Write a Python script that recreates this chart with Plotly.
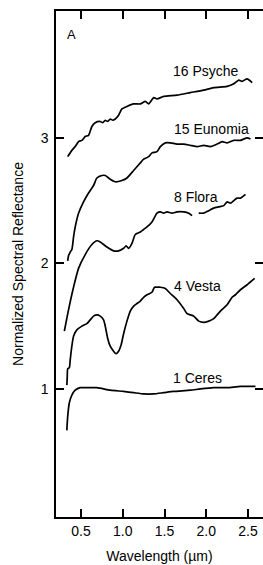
import plotly.graph_objects as go

# ---- data ----
psyche_x = [0.34, 0.39, 0.43, 0.47, 0.51, 0.55, 0.59, 0.63, 0.67, 0.73, 0.76, 0.79, 0.82, 0.85, 0.88, 0.91,
            0.95, 0.99, 1.05, 1.13, 1.21, 1.27, 1.31, 1.37, 1.41, 1.49, 1.65, 1.81, 1.97, 2.09, 2.25,
            2.33, 2.39, 2.43, 2.49, 2.55]
psyche_y = [2.85, 2.90, 2.93, 2.97, 2.98, 3.01, 3.02, 3.09, 3.12, 3.13, 3.12, 3.14, 3.13, 3.15, 3.14, 3.15,
            3.18, 3.23, 3.25, 3.27, 3.27, 3.29, 3.27, 3.32, 3.31, 3.33, 3.34, 3.36, 3.38, 3.40, 3.41,
            3.43, 3.46, 3.45, 3.47, 3.44]

eunomia_x = [0.34, 0.35, 0.37, 0.39, 0.40, 0.41, 0.43, 0.47, 0.53, 0.59, 0.65, 0.69, 0.75, 0.79, 0.85,
             0.91, 0.99, 1.05, 1.13, 1.21, 1.25, 1.31, 1.35, 1.41, 1.45, 1.51, 1.57, 1.65, 1.73, 1.81,
             1.89, 1.97, 2.05, 2.13, 2.19, 2.25, 2.33, 2.41, 2.49, 2.53]
eunomia_y = [2.02, 2.06, 2.09, 2.11, 2.15, 2.21, 2.29, 2.40, 2.49, 2.56, 2.62, 2.68, 2.70, 2.70, 2.67,
             2.65, 2.66, 2.68, 2.74, 2.80, 2.83, 2.85, 2.88, 2.89, 2.93, 2.96, 2.96, 2.95, 2.95, 2.94,
             2.93, 2.94, 2.93, 2.95, 2.97, 2.96, 2.98, 2.98, 3.00, 2.99]

flora_x = [0.30, 0.35, 0.41, 0.47, 0.55, 0.63, 0.69, 0.73, 0.81, 0.89, 0.95, 1.01, 1.04, 1.07, 1.11,
           1.15, 1.21, 1.25, 1.29, 1.35, 1.41, 1.45, 1.49, 1.53, 1.59, 1.65, 1.73, 1.79, 1.83, None,
           1.91, 1.97, 2.03, 2.09, 2.15, 2.21, 2.25, 2.29, 2.33, 2.37, 2.41, 2.47]
flora_y = [1.46, 1.63, 1.81, 1.96, 2.07, 2.15, 2.18, 2.17, 2.13, 2.10, 2.10, 2.12, 2.14, 2.12, 2.16,
           2.23, 2.25, 2.27, 2.29, 2.33, 2.40, 2.41, 2.40, 2.41, 2.40, 2.41, 2.41, 2.40, 2.38, None,
           2.40, 2.40, 2.42, 2.44, 2.45, 2.46, 2.49, 2.48, 2.50, 2.52, 2.52, 2.55]

vesta_x = [0.33, 0.335, 0.34, 0.36, 0.37, 0.39, 0.41, 0.45, 0.51, 0.57, 0.61, 0.65, 0.69, 0.73, 0.77,
           0.79, 0.82, 0.85, 0.89, 0.92, 0.95, 0.98, 1.01, 1.05, 1.09, 1.13, 1.17, 1.21, 1.25, 1.29,
           1.35, 1.38, 1.41, 1.45, 1.51, 1.57, 1.65, 1.73, 1.77, 1.81, 1.85, 1.91, 1.97, 2.03, 2.09,
           2.17, 2.25, 2.31, 2.35, 2.41, 2.49, 2.58]
vesta_y = [1.03, 1.10, 1.16, 1.17, 1.23, 1.34, 1.42, 1.47, 1.50, 1.52, 1.55, 1.58, 1.59, 1.58, 1.55,
           1.50, 1.40, 1.34, 1.30, 1.28, 1.30, 1.35, 1.44, 1.54, 1.62, 1.66, 1.68, 1.70, 1.73, 1.75,
           1.77, 1.81, 1.81, 1.81, 1.80, 1.76, 1.71, 1.64, 1.60, 1.59, 1.58, 1.54, 1.53, 1.54, 1.56,
           1.62, 1.67, 1.73, 1.75, 1.79, 1.83, 1.88]

ceres_x = [0.33, 0.34, 0.36, 0.39, 0.43, 0.49, 0.57, 0.69, 0.85, 1.01, 1.13, 1.25, 1.37, 1.49, 1.61,
           1.81, 1.93, 2.09, 2.25, 2.41, 2.59]
ceres_y = [0.67, 0.78, 0.89, 0.95, 0.99, 1.01, 1.01, 1.01, 0.99, 0.98, 0.97, 0.96, 0.96, 0.97, 0.98,
           0.99, 1.00, 1.01, 1.01, 1.02, 1.02]

series = [
    ("16 Psyche", psyche_x, psyche_y),
    ("15 Eunomia", eunomia_x, eunomia_y),
    ("8 Flora", flora_x, flora_y),
    ("4 Vesta", vesta_x, vesta_y),
    ("1 Ceres", ceres_x, ceres_y),
]
label_x = [2.00, 2.06, 1.88, 1.90, 1.90]
label_y = [3.53, 3.07, 2.53, 1.82, 1.09]

x_ticks = [0.5, 1.0, 1.5, 2.0, 2.5]
x_tick_text = ["0.5", "1.0", "1.5", "2.0", "2.5"]
y_ticks = [1, 2, 3]
y_tick_text = ["1", "2", "3"]

FONT = "Liberation Sans, Arial, sans-serif"

fig = go.Figure()
for name, xs, ys in series:
    fig.add_trace(go.Scatter(x=xs, y=ys, mode="lines", name=name,
                             line=dict(color="black", width=1.7, shape="spline", smoothing=0.6),
                             connectgaps=False, showlegend=False))

for (name, _, _), lx, ly in zip(series, label_x, label_y):
    fig.add_annotation(x=lx, y=ly, text=name, showarrow=False,
                       xanchor="center", yanchor="middle",
                       font=dict(family=FONT, size=14, color="black"))

fig.add_annotation(x=0.077, y=0.953, xref="paper", yref="paper", text="A", showarrow=False,
                   xanchor="center", yanchor="middle",
                   font=dict(family=FONT, size=13, color="black"))

fig.update_layout(
    width=263, height=565,
    margin=dict(l=56, r=0, t=11, b=48, autoexpand=False),
    paper_bgcolor="white", plot_bgcolor="white",
    font=dict(family=FONT, size=14, color="black"),
    xaxis=dict(range=[0.2, 2.68], tickvals=x_ticks, ticktext=x_tick_text,
               ticks="inside", ticklen=8, tickwidth=1.5, tickcolor="black",
               showline=True, linewidth=1.5, linecolor="black", mirror="ticks",
               showgrid=False, zeroline=False, automargin=False,
               title=dict(text="Wavelength (µm)", font=dict(size=14), standoff=14)),
    yaxis=dict(range=[-0.02, 4.01], tickvals=y_ticks, ticktext=y_tick_text,
               ticks="inside", ticklen=8, tickwidth=1.5, tickcolor="black",
               showline=True, linewidth=1.5, linecolor="black", mirror=False,
               showgrid=False, zeroline=False, automargin=False, ticklabelstandoff=3,
               title=dict(text="Normalized Spectral Reflectance", font=dict(size=14), standoff=14)),
    yaxis2=dict(range=[-0.02, 4.01], overlaying="y", side="right", anchor="x",
                tickvals=y_ticks, ticks="inside", ticklen=8, tickwidth=1.5, tickcolor="black",
                showticklabels=False, showline=False, showgrid=False, zeroline=False,
                automargin=False),
)
fig.add_trace(go.Scatter(x=[None], y=[None], yaxis="y2", showlegend=False, hoverinfo="skip"))

fig.write_html("out.html", config={"displayModeBar": False},
               post_script="document.body.style.margin='0';document.body.style.overflow='hidden';")
